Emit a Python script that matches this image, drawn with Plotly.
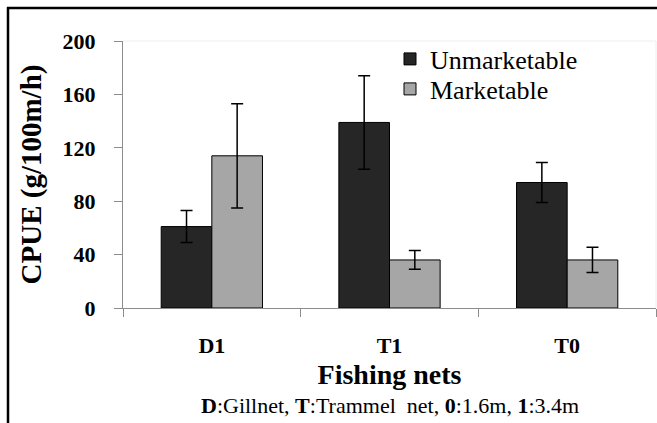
import plotly.graph_objects as go

categories = ["D1", "T1", "T0"]
unmarketable = [61, 139, 94]
unmarketable_err = [12, 35, 15]
marketable = [114, 36, 36]
marketable_err = [39, 7, 9.5]
y_ticks = [0, 40, 80, 120, 160, 200]

W, H = 657, 423
L, R, T, B = 123, 1, 41, 115
pw, ph = W - L - R, H - T - B

def px(x):
    return (x - L) / pw

def py(y):
    return (H - B - y) / ph

FONT = "Liberation Serif, Times New Roman, serif"

fig = go.Figure()
fig.add_trace(go.Bar(
    name="Unmarketable", x=categories, y=unmarketable, legend="legend",
    marker=dict(color="#262626", line=dict(color="#000000", width=1)),
    error_y=dict(type="data", array=unmarketable_err, color="#000000", thickness=1.5, width=6),
))
fig.add_trace(go.Bar(
    name="Marketable", x=categories, y=marketable, legend="legend2",
    marker=dict(color="#a6a6a6", line=dict(color="#000000", width=1)),
    error_y=dict(type="data", array=marketable_err, color="#000000", thickness=1.5, width=6),
))

leg_common = dict(xanchor="left", yanchor="middle", font=dict(size=26, family=FONT),
                  bgcolor="rgba(0,0,0,0)", borderwidth=0)

fig.update_layout(
    width=W, height=H,
    margin=dict(l=L, r=R, t=T, b=B),
    paper_bgcolor="white", plot_bgcolor="white",
    barmode="group", bargap=0.43, bargroupgap=0,
    font=dict(family=FONT, color="#000000"),
    showlegend=True,
    legend=dict(x=px(390), y=py(59), **leg_common),
    legend2=dict(x=px(390), y=py(89), **leg_common),
    xaxis=dict(
        type="category", tickson="boundaries",
        showline=True, linecolor="#8c8c8c", linewidth=1,
        ticks="outside", ticklen=8, tickcolor="#8c8c8c",
        ticktext=[f"<b>{c}</b>" for c in categories], tickvals=categories,
        tickfont=dict(size=22, family=FONT), ticklabelstandoff=18,
        title=dict(text="<b>Fishing nets</b>", font=dict(size=28, family=FONT), standoff=6),
        showgrid=False,
    ),
    yaxis=dict(
        range=[0, 200], tickvals=y_ticks,
        ticktext=[f"<b>{v}</b>" for v in y_ticks],
        showline=True, linecolor="#8c8c8c", linewidth=1,
        ticks="outside", ticklen=8, tickcolor="#8c8c8c",
        tickfont=dict(size=22, family=FONT), ticklabelstandoff=14,
        title=dict(text="<b>CPUE (g/100m/h)</b>", font=dict(size=29, family=FONT), standoff=12),
        showgrid=False, zeroline=False,
    ),
    annotations=[dict(
        text="<b>D</b>:Gillnet, <b>T</b>:Trammel&nbsp; net, <b>0</b>:1.6m, <b>1</b>:3.4m",
        xref="paper", yref="paper", x=px(390), y=py(405),
        xanchor="center", yanchor="middle", showarrow=False,
        font=dict(size=22, family=FONT),
    )],
    shapes=[
        dict(type="line", xref="paper", yref="paper", x0=0, x1=1, y0=1, y1=1,
             line=dict(color="#eeeeee", width=1)),
        dict(type="line", xref="paper", yref="paper", x0=1, x1=1, y0=0, y1=1,
             line=dict(color="#eeeeee", width=1)),
        dict(type="line", xref="paper", yref="paper", x0=px(7), x1=px(660), y0=py(8), y1=py(8),
             line=dict(color="#000000", width=2.5)),
        dict(type="line", xref="paper", yref="paper", x0=px(8), x1=px(8), y0=py(7), y1=py(430),
             line=dict(color="#000000", width=2.5)),
    ],
)

fig.write_html("out.html", config={"displayModeBar": False},
               post_script="document.body.style.margin='0';")
